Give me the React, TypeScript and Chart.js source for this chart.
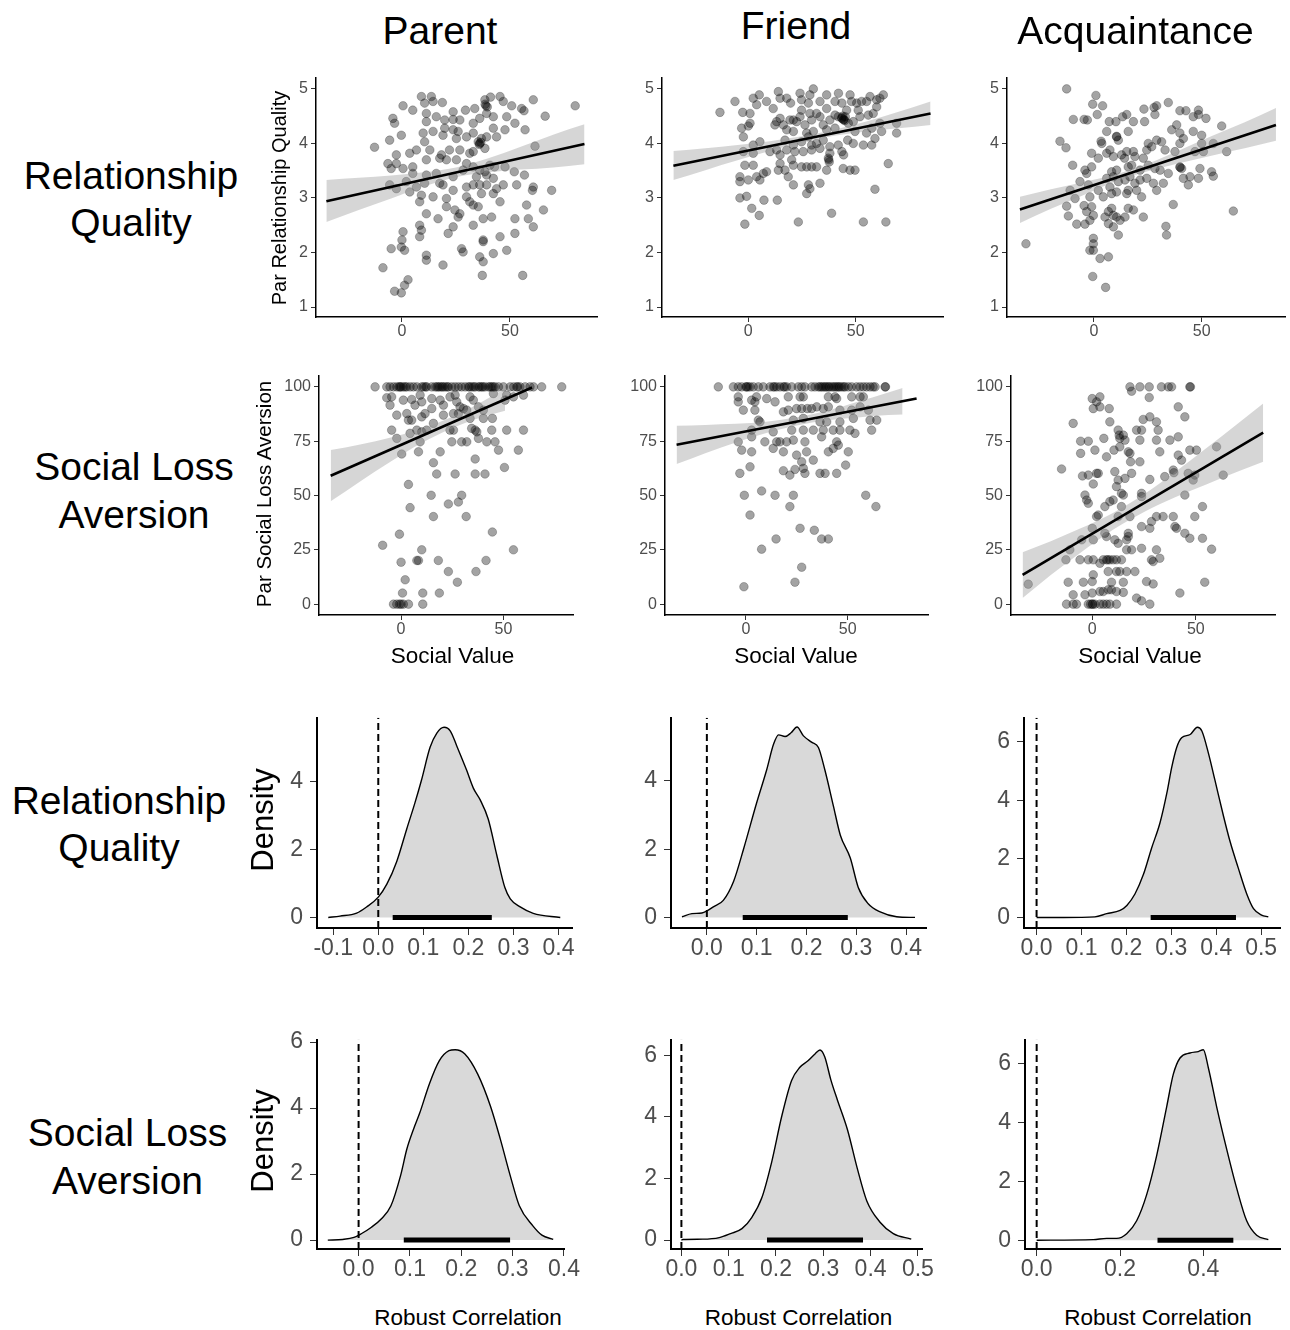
import React, { useEffect, useRef } from "react";
import { Chart, registerables } from "chart.js";

Chart.register(...registerables);

type Pt = [number, number];
const FONT = "'Liberation Sans', Arial, Helvetica, sans-serif";

// ---------------- Column / row labels ----------------
const columnLabels = ["Parent", "Friend", "Acquaintance"];
const rowLabels = ["Relationship\nQuality", "Social Loss\nAversion", "Relationship\nQuality", "Social Loss\nAversion"];

// ---------------- Tick values ----------------
const socialValueTicks = [0, 50];
const relQualityTicks = [1, 2, 3, 4, 5];
const lossAversionTicks = [0, 25, 50, 75, 100];
const densityTicks4 = [0, 2, 4];
const densityTicks6 = [0, 2, 4, 6];
const corrTicksParentRQ = [-0.1, 0, 0.1, 0.2, 0.3, 0.4];
const corrTicksFriendRQ = [0, 0.1, 0.2, 0.3, 0.4];
const corrTicksAcqRQ = [0, 0.1, 0.2, 0.3, 0.4, 0.5];
const corrTicksParentSLA = [0, 0.1, 0.2, 0.3, 0.4];
const corrTicksFriendSLA = [0, 0.1, 0.2, 0.3, 0.4, 0.5];
const corrTicksAcqSLA = [0, 0.2, 0.4];

// ---------------- Scatter: Parent / Relationship Quality ----------------
const parentRQPoints: Pt[] = [
  [9,4.86],[13.6,4.86],[0.5,4.69],[5,4.61],[10.5,4.74],[14.4,4.77],[18.7,4.75],[23.7,4.58],[29.4,4.61],[33.7,4.64],[38.4,4.8],[38.9,4.69],[39.2,4.55],[41,4.85],[45.4,4.86],[46.9,4.77],[50.8,4.69],[55.4,4.64],[56.5,4.6],[60.8,4.8],[66.3,4.5],[80.2,4.69],[-4.2,4.46],[-3.4,4.37],[11.3,4.55],[11.3,4.4],[15.9,4.49],[19.8,4.43],[23.7,4.44],[26.8,4.43],[33,4.37],[36,4.46],[42.3,4.49],[48.5,4.49],[52.3,4.37],[57,4.25],[47.7,4.25],[42.3,4.28],
  [-5.7,4.06],[-0.3,4.15],[-12.7,3.93],[9.8,4.19],[14.4,4.22],[10.5,4.03],[19,4.15],[19.8,4.28],[23.7,4.25],[25.2,4.09],[26,4.22],[29.9,4.12],[33,4.19],[35.3,4.03],[36,4.0],[36.8,4.09],[39.2,4.12],[43.8,4.12],[61.6,3.95],[6.7,3.88],[12.9,3.88],[18.3,3.79],[22,3.88],[26.8,3.88],[31.4,3.82],[33,3.85],[38.4,3.91],[3.6,3.82],[-2.6,3.79],
  [-6.5,3.63],[-2.6,3.63],[-5,3.54],[0.5,3.54],[5,3.57],[11.3,3.7],[17.5,3.73],[20.6,3.7],[25.2,3.7],[29.9,3.63],[33,3.57],[36,3.51],[38.4,3.48],[40.7,3.6],[42.9,3.57],[47.7,3.57],[52,3.48],[56.7,3.42],[5,3.45],[11.3,3.42],[15.9,3.45],[23.7,3.39],[28.3,3.51],[34.5,3.39],[39.2,3.42],[42.3,3.36],[46.9,3.24],
  [-5.7,3.24],[-2.6,3.17],[2,3.3],[6.7,3.2],[10.5,3.27],[17.5,3.27],[19,3.24],[23.7,3.14],[29.9,3.2],[33,3.24],[36,3.24],[39.2,3.24],[43.8,3.17],[53.1,3.24],[60.8,3.2],[60.4,3.14],[69.3,3.14],[3.6,3.11],[9,3.05],[14.4,3.02],[20.6,2.99],[29.9,3.02],[31.4,2.93],[33,2.87],[35.3,2.84],[36.8,3.08],[42.3,3.08],[8.2,2.93],
  [20.6,2.84],[24.5,2.78],[26,2.65],[26.8,2.71],[11.3,2.71],[16.7,2.62],[37.6,2.62],[45.4,2.93],[41.5,2.65],[52.3,2.62],[57.7,2.87],[58.5,2.62],[60.8,2.47],[65.5,2.78],[8.2,2.5],[9,2.41],[8.2,2.29],[23.7,2.47],[21.4,2.35],[33,2.5],[45.4,2.29],[52.3,2.35],
  [0.5,2.38],[0,2.23],[-5,2.07],[-0.3,2.1],[1.2,2.04],[11.3,1.95],[11.3,1.86],[19,1.77],[27.6,2.07],[28.3,2.01],[36,1.92],[37.6,1.83],[37.6,2.23],[42.3,1.98],[48.5,2.04],[-8.8,1.72],[2.8,1.5],[1.2,1.4],[-3.4,1.29],[-0.3,1.26],[37.2,1.58],[55.9,1.58],
  [38.5,4.72],[39.5,4.67],[36.5,4.02],[35.8,3.98],[37.6,2.2]
];
const parentRQLine: Pt[] = [[-35, 2.94], [84.5, 3.99]];
const parentRQBandX = [-35, -20, -5, 10, 25, 40, 55, 70, 84.5];
const parentRQBandLow = [2.56, 2.78, 2.99, 3.21, 3.38, 3.47, 3.52, 3.56, 3.62];
const parentRQBandHigh = [3.33, 3.37, 3.41, 3.47, 3.56, 3.73, 3.94, 4.16, 4.35];

// ---------------- Scatter: Friend / Relationship Quality ----------------
const friendRQPoints: Pt[] = [
  [-13.2,4.57],[-6.2,4.77],[-2.6,4.57],[0.8,4.55],[2.3,4.83],[5.1,4.89],[3.9,4.71],[8.5,4.77],[11.6,4.64],[14,4.95],[14.8,4.83],[17.9,4.83],[19.7,4.74],[24.1,4.92],[24.8,4.8],[28.7,4.89],[30.3,5.0],[28,4.74],[33.4,4.77],[36.5,4.89],[40.4,4.77],[42,4.92],[43.6,4.74],[47.4,4.89],[48.1,4.77],[50.5,4.74],[52.8,4.77],[55.1,4.77],[56.7,4.86],[59.8,4.8],[62.9,4.89],[61.3,4.83],[24.8,4.61],[31.8,4.55],[36.5,4.64],[45.8,4.61],[51.2,4.61],[59.8,4.67],
  [-3.1,4.28],[-2.3,4.12],[0.8,4.37],[0,4.32],[12.4,4.34],[13.2,4.4],[14.8,4.46],[16.3,4.34],[19.4,4.43],[21,4.43],[22.5,4.4],[24.1,4.49],[26.4,4.34],[28.7,4.55],[29.5,4.43],[33.4,4.49],[34.9,4.34],[38,4.43],[40.4,4.52],[41.9,4.49],[43.6,4.46],[44.4,4.43],[45.2,4.49],[46.6,4.37],[48.9,4.4],[52,4.49],[55.9,4.52],[58.2,4.55],[61.3,4.37],[62.1,4.22],[69.1,4.37],[69.1,4.19],[40.4,4.28],[36.5,4.25],[30.3,4.22],[27.2,4.19],[21,4.22],[17.9,4.25],[49.7,4.22],[55.1,4.19],[57.5,4.28],
  [2.3,3.97],[5.4,4.03],[17.1,4.06],[21,3.97],[24.8,4.03],[28,4.12],[29.5,3.97],[31.8,4.0],[34.9,4.06],[38,3.94],[41.9,3.97],[46.3,4.06],[48.9,4.0],[53.6,3.97],[57.5,3.97],[59,4.09],[13.2,3.88],[14.8,3.79],[17.9,3.88],[21.7,3.85],[25.6,3.85],[29.5,3.88],[33.4,3.91],[38,3.82],[43.6,3.85],[44.4,3.79],[10.1,3.85],[-2.3,3.85],[2.3,3.82],
  [-1.6,3.6],[2.3,3.6],[14.8,3.63],[17.1,3.51],[20.2,3.7],[21,3.6],[24.8,3.57],[27.2,3.57],[29.5,3.57],[31.8,3.57],[37.3,3.73],[37.7,3.66],[36.5,3.51],[44.2,3.54],[47.4,3.51],[49.7,3.51],[65.2,3.63],[-3.9,3.39],[-3.9,3.3],[0,3.33],[3.9,3.39],[5.4,3.33],[7,3.45],[8.5,3.48],[14,3.51],[18.6,3.39],[21,3.24],[33.4,3.27],[28,3.24],[28.7,3.17],[27.2,3.08],[59,3.16],
  [-3.9,3.0],[-0.8,3.03],[1.6,2.81],[5.1,2.68],[7.3,2.96],[13.5,2.96],[-1.6,2.52],[23.3,2.56],[38.8,2.72],[53.6,2.56],[64.1,2.56],
  [43.5,4.47],[44.5,4.44],[44,4.5],[45,4.42],[37.5,3.7]
];
const friendRQLine: Pt[] = [[-34.9, 3.59], [84.9, 4.55]];
const friendRQBandX = [-34.9, -20, -5, 10, 25, 40, 55, 70, 84.9];
const friendRQBandLow = [3.33, 3.51, 3.69, 3.86, 4.02, 4.14, 4.22, 4.28, 4.34];
const friendRQBandHigh = [3.86, 3.91, 3.97, 4.04, 4.13, 4.25, 4.4, 4.58, 4.77];

// ---------------- Scatter: Acquaintance / Relationship Quality ----------------
const acqRQPoints: Pt[] = [
  [-12.7,5.0],[0.9,4.88],[-0.6,4.72],[4,4.69],[1.5,4.53],[-9.6,4.44],[-4.6,4.44],[-3.1,4.43],[7.1,4.4],[10.2,4.4],[13.3,4.49],[15.2,4.53],[18.3,4.4],[23.2,4.63],[27.9,4.66],[29.1,4.69],[28.3,4.53],[34.5,4.75],[23.5,4.4],[39.9,4.6],[42.7,4.6],[48.5,4.61],[48.5,4.53],[46.1,4.49],[52,4.46],[59.3,4.32],[-15.8,4.04],[-13,3.92],[-9.9,3.6],[5.9,4.22],[15.9,4.22],[10.5,4.12],[11.3,4.06],[3.3,4.04],[3.6,4.0],[-1.1,3.82],[-4.2,3.51],[-3.4,3.45],[-1.1,3.57],[2,3.73],[5.9,3.82],[9,3.76],[7.4,3.88],[12.8,3.79],[14.2,3.73],[15.2,3.85],[18.3,3.85],[19,3.76],[22.9,3.73],[24.5,3.88],[25.2,4.0],[26.8,3.94],[29.1,4.06],[31.4,4.03],[33,3.88],[36.1,4.25],[38.4,4.34],[39.9,4.19],[41.5,4.09],[39.9,4.0],[37.6,3.85],[46.1,4.22],[50,4.15],[50,4.0],[46.9,3.85],[50.8,3.85],[55.4,4.0],[61.6,3.85],
  [15.9,3.57],[17.5,3.6],[21.4,3.51],[25.2,3.6],[28.3,3.54],[30.7,3.51],[34.5,3.45],[39.9,3.57],[40.7,3.54],[41.5,3.36],[43.8,3.24],[44.6,3.39],[48.5,3.36],[49.2,3.54],[54.6,3.48],[55.4,3.4],[8.2,3.48],[10.5,3.51],[5.9,3.36],[9,3.39],[11.3,3.3],[14.4,3.33],[16.7,3.39],[19,3.27],[21.4,3.33],[24.5,3.36],[27.6,3.27],[32.2,3.27],[29.1,3.14],[-11.1,3.14],[-8.8,2.99],[-6.5,3.3],[-2.6,3.24],[2,3.14],[-1.9,3.02],[4.3,3.02],[7.4,3.2],[8.2,3.08],[10.5,3.11],[15.2,3.08],[15.9,3.14],[19.8,3.14],[22.1,3.02],
  [-12.7,2.85],[-11.9,2.67],[-8,2.52],[-4.6,2.86],[-3.4,2.75],[-1.1,2.84],[-0.3,2.68],[-4.2,2.52],[-1.9,2.59],[5.1,2.65],[6.7,2.75],[8.2,2.81],[9,2.68],[10.5,2.65],[6.7,2.53],[9,2.47],[12.1,2.59],[15.9,2.81],[14.4,2.65],[18.3,2.78],[22.9,2.65],[36.8,2.88],[11.3,2.32],[33.4,2.48],[33.7,2.32],[64.7,2.76],[-31.6,2.16],[-0.3,2.26],[-0.3,2.16],[-1.9,2.04],[-0.3,2.04],[2.8,1.89],[6.7,1.92],[-0.6,1.56],[5.4,1.36],
  [10.5,4.13],[40,3.56]
];
const acqRQLine: Pt[] = [[-34.4, 2.79], [84.5, 4.34]];
const acqRQBandX = [-34.4, -20, -5, 10, 25, 40, 55, 70, 84.5];
const acqRQBandLow = [2.54, 2.8, 3.05, 3.3, 3.49, 3.64, 3.78, 3.91, 4.05];
const acqRQBandHigh = [3.02, 3.16, 3.29, 3.43, 3.63, 3.88, 4.14, 4.39, 4.65];

// ---------------- Scatter: Parent / Social Loss Aversion ----------------
const parentSLAPoints: Pt[] = [
  [-12.7,100],[-7,100],[-5.4,100],[-3.7,100],[-2.1,100],[-0.5,100],[1.1,100],[2.8,100],[4.4,100],[6,100],[7.7,100],[10.1,100],[12.5,100],[15,100],[16.6,100],[18.2,100],[19.9,100],[21.5,100],[23.1,100],[24.8,100],[26.4,100],[28,100],[29.6,100],[31.3,100],[32.9,100],[34.5,100],[36.2,100],[37.8,100],[39.4,100],[41,100],[42.7,100],[44.3,100],[45.9,100],[47.6,100],[50,100],[53.3,100],[56.5,100],[58.1,100],[60.6,100],[63,100],[64.7,100],[68.7,100],[78.5,100],
  [11,100],[12,100],[17.5,100],[19,100],[20.5,100],[22.5,100],[33.5,100],[35.5,100],[38.5,100],[40,100],[43.5,100],[45,100],[0,100],[2,100],[-1,100],[55,100],[57,100],
  [-7,95],[-5.4,91.6],[-4.6,95.4],[1.1,93.9],[5.2,94.2],[6.8,91.6],[10.1,93.1],[9.3,96.2],[15,94.6],[15,90],[19.1,93.9],[20.7,91.6],[23.9,95.4],[26.4,96.2],[27.2,93.1],[28.8,90.8],[30.5,90],[32.1,89.3],[33.7,95.4],[35.3,93.9],[37.8,90.8],[40.2,89.3],[45.1,96.9],[51.6,96.2],[54.9,95.4],[59.8,96.2],[50.8,93.9],
  [-2.1,87],[2.8,87.7],[3.6,84.7],[5.2,84.7],[10.1,86.2],[11.7,87.7],[15.8,83.2],[20.7,87],[25.6,87.7],[28,87.7],[33.7,85.5],[40.2,85.5],[44.6,85.5],[-4.6,80.1],[-2.1,76.3],[4.4,78.6],[7.7,80.1],[10.1,79.3],[12.5,80.1],[23.9,80.1],[25.6,80.1],[34.5,80.9],[36.2,80.1],[37,79.3],[44.3,80.1],[51.6,80.1],[59.8,80.1],
  [9.3,74.7],[24.8,74.7],[29.6,74.7],[32.1,74.7],[37.8,76.3],[41.9,74.7],[45.9,74.7],[47.6,70.9],[57.3,70.9],[0.3,69.1],[8.5,70.1],[19.1,70.1],[15.8,65.1],[36.2,66.8],[17.4,59.9],[26.4,59.9],[36.2,59.9],[41,59.9],[50.5,62.9],[3.6,55.1],[14.7,50.1],[29.6,50.1],[4.4,44.4],[23.1,46.1],[28,47],[15.8,40.3],[31.8,40.3],
  [-0.8,32.2],[44.6,33.2],[-9,27.1],[10.1,25],[54.9,25],[0,19.3],[7.7,20.1],[8.5,20.1],[18.2,20.1],[41.5,20.1],[23.1,15],[36.6,15],[2,11.2],[27.5,10.1],[0.7,5.1],[10.6,5.1],[18.7,5.1],[-3.7,0],[-2.1,0],[-0.8,0],[0,0],[1.1,0],[3.6,0],[10.6,0]
];
const parentSLALine: Pt[] = [[-34.4, 59.1], [64, 99.7]];
const parentSLABandX = [-34.4, -20, -5, 10, 25, 40, 50.8];
const parentSLABandLow = [47.3, 56.5, 65.7, 74.2, 81, 86.2, 89];
const parentSLABandHigh = [70.9, 73.5, 76.7, 80.6, 86.2, 93.4, 99.3];

// ---------------- Scatter: Friend / Social Loss Aversion ----------------
const friendSLAPoints: Pt[] = [
  [-13.6,100],[-6.2,100],[-3.8,100],[-2.1,100],[0.3,100],[2,100],[3.6,100],[6.1,100],[8.5,100],[11.8,100],[13.4,100],[15.1,100],[16.7,100],[18.4,100],[20,100],[22.5,100],[25.7,100],[27.4,100],[29,100],[32.3,100],[33.9,100],[35.6,100],[36.4,100],[37.2,100],[38.9,100],[40.5,100],[42.1,100],[43.8,100],[44.6,100],[45.4,100],[47,100],[48.7,100],[50.3,100],[52,100],[54.4,100],[56.1,100],[57.7,100],[59.3,100],[61,100],[68.4,100],[68.6,100],
  [0,100],[1,100],[14,100],[19,100],[38,100],[39.5,100],[41,100],[43,100],[46,100],[48,100],[62.5,100],[63.5,100],
  [-3.8,95.4],[-3.8,93.1],[2.8,93.9],[5.2,95.4],[4.4,93.1],[10.2,94.6],[14.3,93.1],[20.8,95.4],[26.6,95.4],[28.2,95.4],[40.5,95.4],[43.8,95.4],[44.6,94.6],[52,95.4],[56.1,95.4],[57.7,95.4],[-1.3,89.3],[4.4,89.3],[18.4,88.5],[20.8,89.3],[24.9,90],[27.4,90],[30.2,90],[32.3,90],[34.8,90.8],[38,90],[40.5,90.8],[46.2,89.3],[52,89.3],[56.1,90.8],[60.2,89.3],
  [6.9,83.9],[6.1,84.7],[23.3,84.7],[28.2,85.5],[36.4,83.9],[39.7,83.9],[46.2,83.9],[52.8,85.5],[61,84.7],[64.3,84.7],[2.8,80.1],[13.4,79.3],[22.5,80.1],[28.2,80.1],[33.1,80.1],[38,80.1],[42.9,80.1],[46.2,80.1],[51.1,80.1],[53.6,78.6],[61.8,80.1],
  [-3.8,74.7],[2.8,77],[9.3,74.7],[13.4,71.7],[15.1,74.7],[16.7,74.7],[20,74.7],[23.3,75.5],[29,74.7],[37.2,77],[44.6,74.7],[45.4,73.2],[42.9,71.7],[-2.1,70.9],[2.8,70.1],[18.4,70.1],[24.9,68.6],[29.8,70.1],[40.5,70.1],[50.3,70.1],
  [2,63.2],[-3,60.2],[18.4,61.4],[21.6,59.4],[24.1,62],[27.4,65.5],[28.2,62.5],[29,60.2],[33.1,66.3],[36.4,60.2],[38.9,60.2],[44.6,60.2],[49,64],[-0.8,50.1],[7.7,52.1],[14.3,50.1],[23.3,50.1],[21.6,44.9],[58.9,50.1],[63.9,44.9],[2,41],[26.6,34.9],[33.6,34],[37.2,30],[40.5,30],[14.8,30],[7.7,25.3],[27.4,17],[24.1,10.1],[-1,8]
];
const friendSLALine: Pt[] = [[-34.1, 73.4], [83.9, 94.6]];
const friendSLABandX = [-34.1, -20, -5, 10, 25, 40, 55, 70, 77];
const friendSLABandLow = [64.5, 69.5, 74.4, 78.8, 82.2, 84.6, 85.9, 87, 87.3];
const friendSLABandHigh = [82.1, 82.5, 83, 84, 86, 89, 93.1, 97.4, 99.5];

// ---------------- Scatter: Acquaintance / Social Loss Aversion ----------------
const acqSLAPoints: Pt[] = [
  [-30.9,9.2],[-12.7,20.4],[-14.8,62.2],[-9.2,83.2],[-5.6,75],[-1.9,75],[-5.6,69.4],[-4.7,59],[-1.9,59.4],[2.1,60.2],[2.9,60.2],[-3.5,50.2],[-2.7,47.9],[-1.9,46.4],[0.5,55.3],[0.5,90],[3.7,95.4],[3.7,90.8],[0,94.6],[2.1,93.1],[8.2,90],[1.3,70.9],[5.6,76.3],[6.9,67.8],[8.5,83.9],[12.5,80.1],[13.3,76.3],[15,77.8],[15.8,75.5],[13.3,72.4],[10.5,70.9],[17.4,70.1],[18.2,69.4],[18.5,65.5],[23,75.5],[23.8,80.1],[23,65.5],[24.6,85],[27.8,86.2],[31,83.9],[31.8,80.1],[31,75.5],[32.6,70.1],[37.5,75.5],[41.5,90.8],[41.5,77],[44.7,86.2],[41.5,68.6],[43.1,66.3],[47.1,70.9],[50.3,70.9],[60,72.4],[63.2,59.4],
  [39.1,61.7],[39.4,60.5],[46.3,60.2],[49.5,59.4],[48.7,57.1],[44.7,50.2],[35,58.7],[27.8,57.4],[23.8,51],[23.8,49.5],[19,60.2],[15.8,57.9],[12.5,57.1],[10.9,61],[11.7,54.1],[14.1,51],[15,50.2],[10.1,47.9],[14.1,44.9],[8.5,47.2],[6.1,44.9],[12.5,40.3],[18.2,40.3],[2.9,41],[2.1,40.3],[0,34.9],[-5.1,29.6],[0.5,29.6],[6.1,32.6],[6.9,31.1],[10.9,29.6],[12.5,28],[16.6,29.6],[17.4,31.1],[23.8,35.7],[27.8,34.9],[28.6,38],[31,40.3],[34.2,40.3],[39.1,40.3],[39.9,35.7],[40.7,34.9],[44.7,32.6],[47.1,30.3],[49.5,40.3],[53.2,44.9],[53.2,30.3],[57.6,25.3],[54.3,10.1],
  [-10.8,25],[-5.9,20.4],[-1.9,20.4],[0.5,20.4],[3.7,18.8],[5.3,20.4],[6.9,20.4],[7.5,20.4],[8.5,20.4],[10.1,20.4],[11.7,20.4],[14.1,20.4],[7.7,15],[11.7,15],[13.3,15],[16.6,15],[20.6,15],[16.6,25],[19,25],[23.8,25.7],[28.6,20.4],[29.4,19.6],[31,25],[32.6,21.1],[17.4,32.6],[-11.6,10.1],[-4.3,10.1],[0,10.4],[0.5,13.5],[9.3,10.1],[15,10.1],[26.2,10.4],[29.4,9.3],[42.3,5.1],[-9.2,4.3],[-3.5,4.3],[0,5.1],[3.7,5.8],[5.3,5.8],[7.7,6.6],[9.3,6.6],[11.7,5.8],[15,5.4],[21.4,2.8],[23.8,1.5],
  [-12.4,0],[-9.2,0],[-7.6,0],[-1.9,0],[-0.8,0],[0,0],[0.3,0],[1.3,0],[3.7,0],[5.3,0],[6.9,0],[8.5,0],[11.7,0],[27.8,0],[18.2,100],[23,100],[27.5,100],[33.4,100],[36.7,100],[38.3,100],[47.1,100],[47.4,100],[27.5,95.1],[19,98],[21.4,80.1],[13,77.8]
];
const acqSLALine: Pt[] = [[-33.6, 13.5], [82.5, 78.9]];
const acqSLABandX = [-33.6, -20, -5, 10, 25, 40, 55, 70, 82.5];
const acqSLABandLow = [2.8, 13.4, 24.1, 34.2, 42.4, 49.2, 55.1, 60.9, 65.5];
const acqSLABandHigh = [23.9, 29, 35.1, 42, 50.6, 60.8, 71.7, 82.9, 92.3];

// ---------------- Posterior densities ----------------
const parentRQDensX = [-0.111,-0.085,-0.048,-0.026,0,0.019,0.041,0.063,0.081,0.096,0.115,0.13,0.146,0.16,0.174,0.196,0.211,0.226,0.244,0.263,0.281,0.293,0.315,0.344,0.404];
const parentRQDensY = [0,0.04,0.13,0.31,0.6,0.98,1.65,2.6,3.36,4.05,5.01,5.43,5.6,5.49,5.06,4.34,3.81,3.47,2.9,1.84,0.88,0.55,0.31,0.12,0];
const parentRQInterval = [0.032, 0.252];

const friendRQDensX = [-0.05,-0.03,-0.01,0,0.013,0.033,0.054,0.074,0.1,0.12,0.134,0.144,0.157,0.169,0.181,0.194,0.211,0.224,0.237,0.254,0.268,0.288,0.304,0.324,0.348,0.381,0.418];
const friendRQDensY = [0.02,0.11,0.13,0.19,0.31,0.5,1.07,2.02,3.36,4.32,5.08,5.35,5.3,5.41,5.58,5.32,5.13,4.98,4.32,3.27,2.41,1.74,0.88,0.4,0.16,0.02,0];
const friendRQInterval = [0.072, 0.283];

const acqRQDensX = [0,0.06,0.13,0.156,0.186,0.201,0.219,0.238,0.256,0.275,0.29,0.301,0.312,0.323,0.342,0.358,0.368,0.383,0.397,0.416,0.431,0.449,0.468,0.483,0.501,0.516];
const acqRQDensY = [0,0,0.02,0.13,0.24,0.41,0.8,1.47,2.36,3.24,4.24,5.13,5.8,6.13,6.24,6.49,6.36,5.58,4.69,3.47,2.58,1.69,0.8,0.3,0.08,0.02];
const acqRQInterval = [0.254, 0.444];

const parentSLADensX = [-0.06,-0.031,-0.009,0.006,0.025,0.044,0.063,0.082,0.094,0.107,0.119,0.138,0.157,0.176,0.188,0.207,0.232,0.257,0.276,0.295,0.313,0.339,0.357,0.379];
const parentSLADensY = [0,0.02,0.08,0.2,0.39,0.64,1.04,1.97,2.76,3.36,3.85,4.74,5.43,5.74,5.77,5.64,5.03,4.05,3.06,1.97,1.04,0.44,0.15,0.02];
const parentSLAInterval = [0.088, 0.295];

const friendSLADensX = [0,0.003,0.045,0.08,0.104,0.128,0.149,0.17,0.191,0.212,0.233,0.25,0.267,0.283,0.293,0.303,0.316,0.33,0.351,0.372,0.392,0.42,0.448,0.486];
const friendSLADensY = [0,0.02,0.03,0.08,0.21,0.37,0.74,1.37,2.54,4.01,5.18,5.6,5.81,6.05,6.17,5.95,5.2,4.54,3.59,2.32,1.27,0.58,0.21,0.03];
const friendSLAInterval = [0.181, 0.384];

const acqSLADensX = [0,0.136,0.168,0.192,0.216,0.24,0.264,0.288,0.312,0.328,0.344,0.368,0.388,0.4,0.412,0.432,0.456,0.48,0.504,0.528,0.556];
const acqSLADensY = [0,0.02,0.06,0.06,0.22,0.66,1.55,2.88,4.54,5.65,6.2,6.37,6.42,6.48,5.87,4.54,3.1,1.77,0.66,0.17,0.02];
const acqSLAInterval = [0.29, 0.472];

// ---------------- helpers ----------------
const toXY = (pts: Pt[]) => pts.map(([x, y]) => ({ x, y }));
const zip = (xs: number[], ys: number[]) => xs.map((x, i) => ({ x, y: ys[i] }));

function scatterSets(points: Pt[], line: Pt[], bx: number[], lo: number[], hi: number[]) {
  return () => [
    { data: toXY(line), showLine: true, borderColor: "#000", borderWidth: 2.6, pointRadius: 0, fill: false },
    { data: zip(bx, hi), showLine: true, borderColor: "rgba(0,0,0,0)", borderWidth: 1, pointRadius: 0,
      fill: 2, backgroundColor: "rgba(153,153,153,0.4)", cubicInterpolationMode: "monotone" },
    { data: zip(bx, lo), showLine: true, borderColor: "rgba(0,0,0,0)", borderWidth: 1, pointRadius: 0,
      fill: false, cubicInterpolationMode: "monotone" },
    { data: toXY(points), showLine: false, pointRadius: 4.3, backgroundColor: "rgba(0,0,0,0.36)",
      borderColor: "rgba(0,0,0,0.3)", borderWidth: 0.8 },
  ];
}

function densitySets(xs: number[], ys: number[], ci: number[], yMin: number, yMax: number) {
  return () => [
    { data: [{ x: 0, y: yMin }, { x: 0, y: yMax }], showLine: true, borderColor: "#000", borderWidth: 2,
      borderDash: [7, 4], pointRadius: 0, fill: false },
    { data: [{ x: ci[0], y: 0 }, { x: ci[1], y: 0 }], showLine: true, borderColor: "#000", borderWidth: 5,
      borderCapStyle: "butt", pointRadius: 0, fill: false },
    { data: zip(xs, ys), showLine: true, borderColor: "#000", borderWidth: 1.4, pointRadius: 0,
      fill: "origin", backgroundColor: "#d9d9d9", cubicInterpolationMode: "monotone" },
  ];
}

interface PanelSpec {
  kind: "scatter" | "density";
  rect: [number, number, number, number]; // left, top, right, bottom of plot area
  xRange: [number, number];
  yRange: [number, number];
  xTicks: number[];
  yTicks: number[];
  xDigits: number;
  makeSets: () => any[];
}

const RQ_Y: [number, number] = [0.817, 5.2];
const SLA_Y: [number, number] = [-5, 105];

const panels: PanelSpec[] = [
  { kind: "scatter", rect: [316, 78, 597, 317], xRange: [-39.8, 90.3], yRange: RQ_Y, xTicks: socialValueTicks, yTicks: relQualityTicks, xDigits: 0,
    makeSets: scatterSets(parentRQPoints, parentRQLine, parentRQBandX, parentRQBandLow, parentRQBandHigh) },
  { kind: "scatter", rect: [662, 78, 943, 317], xRange: [-40.2, 90.7], yRange: RQ_Y, xTicks: socialValueTicks, yTicks: relQualityTicks, xDigits: 0,
    makeSets: scatterSets(friendRQPoints, friendRQLine, friendRQBandX, friendRQBandLow, friendRQBandHigh) },
  { kind: "scatter", rect: [1007, 78, 1285, 317], xRange: [-40.4, 88.7], yRange: RQ_Y, xTicks: socialValueTicks, yTicks: relQualityTicks, xDigits: 0,
    makeSets: scatterSets(acqRQPoints, acqRQLine, acqRQBandX, acqRQBandLow, acqRQBandHigh) },
  { kind: "scatter", rect: [319, 376, 573, 615], xRange: [-40.1, 84], yRange: SLA_Y, xTicks: socialValueTicks, yTicks: lossAversionTicks, xDigits: 0,
    makeSets: scatterSets(parentSLAPoints, parentSLALine, parentSLABandX, parentSLABandLow, parentSLABandHigh) },
  { kind: "scatter", rect: [665, 376, 928, 615], xRange: [-39.8, 89.5], yRange: SLA_Y, xTicks: socialValueTicks, yTicks: lossAversionTicks, xDigits: 0,
    makeSets: scatterSets(friendSLAPoints, friendSLALine, friendSLABandX, friendSLABandLow, friendSLABandHigh) },
  { kind: "scatter", rect: [1011, 376, 1275, 615], xRange: [-39.2, 88.2], yRange: SLA_Y, xTicks: socialValueTicks, yTicks: lossAversionTicks, xDigits: 0,
    makeSets: scatterSets(acqSLAPoints, acqSLALine, acqSLABandX, acqSLABandLow, acqSLABandHigh) },
  { kind: "density", rect: [317, 713, 572, 928], xRange: [-0.136, 0.43], yRange: [-0.31, 5.88], xTicks: corrTicksParentRQ, yTicks: densityTicks4, xDigits: 1,
    makeSets: densitySets(parentRQDensX, parentRQDensY, parentRQInterval, -0.31, 5.88) },
  { kind: "density", rect: [671, 713, 926, 928], xRange: [-0.072, 0.44], yRange: [-0.31, 5.85], xTicks: corrTicksFriendRQ, yTicks: densityTicks4, xDigits: 1,
    makeSets: densitySets(friendRQDensX, friendRQDensY, friendRQInterval, -0.31, 5.85) },
  { kind: "density", rect: [1024, 713, 1280, 928], xRange: [-0.028, 0.542], yRange: [-0.36, 6.81], xTicks: corrTicksAcqRQ, yTicks: densityTicks6, xDigits: 1,
    makeSets: densitySets(acqRQDensX, acqRQDensY, acqRQInterval, -0.36, 6.81) },
  { kind: "density", rect: [317, 1035, 572, 1249], xRange: [-0.081, 0.401], yRange: [-0.27, 6.07], xTicks: corrTicksParentSLA, yTicks: densityTicks6, xDigits: 1,
    makeSets: densitySets(parentSLADensX, parentSLADensY, parentSLAInterval, -0.27, 6.07) },
  { kind: "density", rect: [671, 1035, 926, 1249], xRange: [-0.022, 0.509], yRange: [-0.29, 6.5], xTicks: corrTicksFriendSLA, yTicks: densityTicks6, xDigits: 1,
    makeSets: densitySets(friendSLADensX, friendSLADensY, friendSLAInterval, -0.29, 6.5) },
  { kind: "density", rect: [1025, 1035, 1280, 1249], xRange: [-0.028, 0.584], yRange: [-0.3, 6.82], xTicks: corrTicksAcqSLA, yTicks: densityTicks6, xDigits: 1,
    makeSets: densitySets(acqSLADensX, acqSLADensY, acqSLAInterval, -0.3, 6.82) },
];

function Panel({ spec }: { spec: PanelSpec }) {
  const ref = useRef<HTMLCanvasElement | null>(null);
  const dens = spec.kind === "density";
  const YW = 64;
  const XH = dens ? 48 : 30;
  const PT = 16;
  const PR = 8;
  const [l, t, r, b] = spec.rect;
  const W = r - l + YW + PR;
  const H = b - t + PT + XH;

  useEffect(() => {
    if (!ref.current) return;
    const tl = dens ? 7 : 5;
    const tickFont = { family: FONT, size: dens ? 23 : 16 };
    const chart = new Chart(ref.current, {
      type: "scatter",
      data: { datasets: spec.makeSets() },
      options: {
        responsive: false,
        animation: false,
        events: [],
        layout: { padding: { left: 0, top: PT, right: PR, bottom: 0 } },
        plugins: { legend: { display: false }, tooltip: { enabled: false }, title: { display: false } },
        scales: {
          x: {
            type: "linear",
            position: "bottom",
            min: spec.xRange[0],
            max: spec.xRange[1],
            afterBuildTicks: (s: any) => { s.ticks = spec.xTicks.map((v) => ({ value: v })); },
            afterFit: (s: any) => { s.height = XH; },
            ticks: {
              autoSkip: false, maxRotation: 0, minRotation: 0, padding: 0,
              color: "#4d4d4d", font: tickFont,
              callback: (v: any) => Number(v).toFixed(spec.xDigits),
            },
            grid: { display: true, drawOnChartArea: false, drawTicks: true, tickLength: tl, color: "#333333", lineWidth: 1 },
            border: { display: true, color: "#000", width: dens ? 2 : 1.5 },
          },
          y: {
            type: "linear",
            position: "left",
            min: spec.yRange[0],
            max: spec.yRange[1],
            afterBuildTicks: (s: any) => { s.ticks = spec.yTicks.map((v) => ({ value: v })); },
            afterFit: (s: any) => { s.width = YW; },
            ticks: {
              autoSkip: false, padding: dens ? 7 : 3,
              color: "#4d4d4d", font: tickFont,
              callback: (v: any) => String(v),
            },
            grid: { display: true, drawOnChartArea: false, drawTicks: true, tickLength: tl, color: "#333333", lineWidth: 1 },
            border: { display: true, color: "#000", width: dens ? 2 : 1.5 },
          },
        },
      } as any,
    });
    return () => chart.destroy();
  }, [spec]);

  return (
    <canvas
      ref={ref}
      width={W}
      height={H}
      style={{ position: "absolute", left: l - YW, top: t - PT, width: W, height: H }}
    />
  );
}

interface TextItem { text: string; x: number; y: number; size: number; rotate?: boolean; lh?: number; }

const texts: TextItem[] = [
  { text: columnLabels[0], x: 440, y: 30, size: 39 },
  { text: columnLabels[1], x: 796, y: 25, size: 39 },
  { text: columnLabels[2], x: 1135.5, y: 30, size: 39 },
  { text: rowLabels[0], x: 131, y: 198.5, size: 39, lh: 47 },
  { text: rowLabels[1], x: 134, y: 491, size: 39, lh: 48 },
  { text: rowLabels[2], x: 119, y: 823.5, size: 39, lh: 47 },
  { text: rowLabels[3], x: 127.5, y: 1157, size: 39, lh: 48 },
  { text: "Par Relationship Quality", x: 279, y: 197.5, size: 20, rotate: true },
  { text: "Par Social Loss Aversion", x: 264, y: 494, size: 20.5, rotate: true },
  { text: "Social Value", x: 452.5, y: 656, size: 22.5 },
  { text: "Social Value", x: 796, y: 656, size: 22.5 },
  { text: "Social Value", x: 1140, y: 656, size: 22.5 },
  { text: "Density", x: 262, y: 820, size: 31, rotate: true },
  { text: "Density", x: 262, y: 1141, size: 31, rotate: true },
  { text: "Robust Correlation", x: 468, y: 1318, size: 22.5 },
  { text: "Robust Correlation", x: 798.5, y: 1318, size: 22.5 },
  { text: "Robust Correlation", x: 1158, y: 1318, size: 22.5 },
];

export default function App() {
  return (
    <div
      style={{
        position: "absolute", left: 0, top: 0, width: 1290, height: 1330,
        overflow: "hidden", background: "#fff", fontFamily: FONT,
      }}
    >
      {panels.map((p, i) => (
        <Panel key={i} spec={p} />
      ))}
      {texts.map((t, i) => (
        <div
          key={"t" + i}
          style={{
            position: "absolute", left: t.x, top: t.y,
            transform: `translate(-50%, -50%)${t.rotate ? " rotate(-90deg)" : ""}`,
            fontFamily: FONT, fontSize: t.size,
            lineHeight: t.lh ? `${t.lh}px` : 1,
            whiteSpace: "pre", textAlign: "center", color: "#000",
          }}
        >
          {t.text}
        </div>
      ))}
    </div>
  );
}
